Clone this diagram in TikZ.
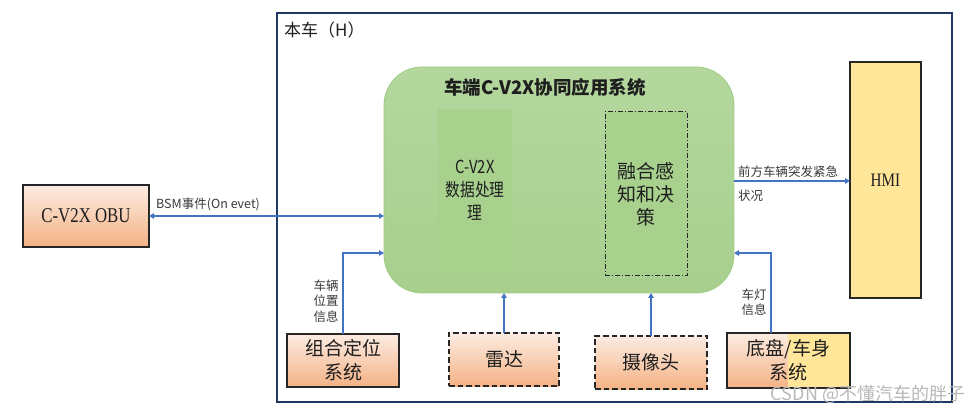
\documentclass[tikz,border=0pt]{standalone}
\usepackage{fontspec}
\usepackage{graphicx}
\setmainfont{Liberation Serif}
\newfontfamily\cjk{Noto Sans CJK SC}
\usetikzlibrary{arrows.meta}

\definecolor{frameblue}{RGB}{32,56,100}
\definecolor{arrowblue}{RGB}{68,114,196}
\definecolor{peachtop}{RGB}{252,236,226}
\definecolor{peachbot}{RGB}{244,178,132}
\definecolor{hmiyellow}{RGB}{255,230,153}
\definecolor{greentop}{RGB}{180,215,158}
\definecolor{greenmid}{RGB}{199,226,183}
\definecolor{greenbot}{RGB}{168,207,142}
\definecolor{greenedge}{RGB}{158,204,132}
\definecolor{innergreen}{RGB}{169,209,142}
\definecolor{txt}{RGB}{30,30,30}
\definecolor{labeltxt}{RGB}{56,56,56}

\newcommand{\narrow}[1]{\scalebox{0.82}[1]{#1}}

\tikzset{
  unitbox/.style={inner sep=0pt, outer sep=0pt, align=center, text=txt,
    font=\cjk\fontsize{19}{24}\selectfont},
  peach/.style={unitbox, draw=black!85, line width=1.3pt,
    top color=peachtop, bottom color=peachbot},
  sensor/.style={peach, dash pattern=on 5.5pt off 3pt},
  flow/.style={draw=arrowblue, line width=1.2pt,
    -{Triangle[width=5.5pt,length=5pt]}},
  biflow/.style={flow, {Triangle[width=5.5pt,length=5pt]}-{Triangle[width=5.5pt,length=5pt]}},
  tag/.style={inner sep=0pt, text=labeltxt, font=\cjk\fontsize{12.5}{15.5}\selectfont},
}

\begin{document}
\begin{tikzpicture}[x=1pt,y=-1pt]
\useasboundingbox (0,0) rectangle (974,411);

% vehicle boundary
\node[draw=frameblue, line width=1.2pt, minimum width=675pt, minimum height=389pt,
      inner sep=0pt] (host) at (614.5,207.5) {};
\node[anchor=west, inner sep=0pt, text=txt, font=\cjk\fontsize{17}{20}\selectfont]
  (hosttitle) at (284,30) {本车（H）};

% external OBU
\node[peach, minimum width=126pt, minimum height=62pt] (obu) at (86,216)
  {\fontspec{Liberation Serif}\fontsize{21}{24}\selectfont\scalebox{0.8}[1]{C-V2X OBU}};

% on-board application block
\node[unitbox, rounded corners=38pt, draw=greenedge, line width=0.8pt,
      top color=greentop, middle color=greenmid, bottom color=greenbot,
      minimum width=350pt, minimum height=226pt] (app) at (559,180) {};
\node[unitbox, font=\cjk\bfseries\fontsize{18.5}{22}\selectfont] (apptitle) at (545,87)
  {车端C-V2X协同应用系统};
\node[unitbox, fill=innergreen, minimum width=74pt, minimum height=163pt,
      font=\cjk\fontsize{18}{23}\selectfont] (proc) at (475,190.5)
  {\narrow{C-V2X}\\\narrow{数据处理}\\\narrow{理}};
\node[unitbox, fill=innergreen, draw=black!85, line width=1pt,
      dash pattern=on 5pt off 2pt on 1pt off 2pt,
      minimum width=82pt, minimum height=164pt,
      font=\cjk\fontsize{19}{23}\selectfont] (fuse) at (646,194)
  {融合感\\知和决\\策};

% HMI
\node[unitbox, fill=hmiyellow, draw=black!85, line width=1.3pt,
      minimum width=71pt, minimum height=236pt] (hmi) at (885.5,180)
  {\fontspec{Liberation Serif}\fontsize{19}{22}\selectfont\scalebox{0.8}[1]{HMI}};

% sensors and vehicle systems
\node[peach, minimum width=112pt, minimum height=53pt] (gnss) at (343,360.5)
  {组合定位\\系统};
\node[sensor, minimum width=110pt, minimum height=53pt] (radar) at (504,359.5)
  {雷达};
\node[sensor, minimum width=112pt, minimum height=53pt] (camera) at (651,362.5)
  {摄像头};
\node[unitbox, top color=peachtop, bottom color=peachbot,
      minimum width=123pt, minimum height=55pt] (chassisbg) at (788.5,360.5) {};
\fill[hmiyellow] (788,333) rectangle (850,388);
\node[unitbox, draw=black!85, line width=1.3pt,
      minimum width=123pt, minimum height=55pt] (chassis) at (788.5,360.5)
  {底盘/车身\\系统};

% connectors
\draw[biflow] (obu.east) -- (obu.east -| app.west);
\node[tag, anchor=base west] (bsm) at (156,209) {BSM事件(On evet)};

\draw[flow] (gnss.north) |- ([yshift=-73pt]app.west);
\node[tag, align=center] (gnsstag) at (326,301) {车辆\\位置\\信息};

\draw[flow] (radar.north) -- (radar.north |- app.south);
\draw[flow] (camera.north) -- (camera.north |- app.south);

\draw[flow] ([xshift=-17.5pt]chassis.north) |- ([yshift=-73pt]app.east);
\node[tag, align=center] (lighttag) at (754,302) {车灯\\信息};

\draw[flow] ([yshift=-1pt]app.east) -- ([yshift=-1pt]app.east -| hmi.west);
\node[tag, anchor=base west] (warn1) at (738,177) {前方车辆突发紧急};
\node[tag, anchor=base west] (warn2) at (738,201) {状况};

% watermark
\node[inner sep=0pt, text=black!28, font=\cjk\fontsize{18}{20}\selectfont]
  (mark) at (868,394) {CSDN @不懂汽车的胖子};
\end{tikzpicture}
\end{document}
